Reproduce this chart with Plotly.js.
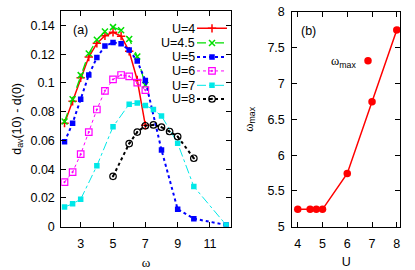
<!DOCTYPE html>
<html>
<head>
<meta charset="utf-8">
<script src="https://cdn.plot.ly/plotly-3.0.1.min.js"></script>
<style>html,body{margin:0;padding:0;background:#fff}#plot{width:415px;height:270px}</style>
</head>
<body>
<div id="plot"></div>
<script>
// ---- data, panel (a) ----
const wA = [2, 2.5, 3, 3.5, 4, 4.5, 5, 5.5, 6, 6.5, 7];
const dU4 = [0.072, 0.0872, 0.1035, 0.118, 0.1275, 0.1328, 0.1352, 0.1325, 0.122, 0.102, 0.0705];
const dU45 = [0.0731, 0.0886, 0.1054, 0.1205, 0.1300, 0.1358, 0.1388, 0.1366, 0.1305, 0.1184, 0.0985];
const wU5 = [2, 2.5, 3, 3.5, 4, 4.5, 5, 5.5, 6, 6.5, 7, 8, 9, 10, 12];
const dU5 = [0.059, 0.072, 0.0887, 0.1055, 0.1176, 0.1256, 0.1281, 0.1272, 0.1228, 0.1152, 0.1017, 0.0534, 0.0121, 0.0056, 0.0012];
const dU6 = [0.031, 0.038, 0.0504, 0.0658, 0.0815, 0.0945, 0.1024, 0.1055, 0.1046, 0.1002, 0.095];
const wU7 = [2, 2.5, 3, 4, 5, 6, 6.5, 7, 7.5, 8, 9, 10, 12];
const dU7 = [0.0137, 0.0159, 0.0191, 0.0423, 0.0695, 0.0852, 0.086, 0.0843, 0.0815, 0.077, 0.058, 0.0279, 0.0012];
const wU8 = [5, 6, 6.5, 7, 7.5, 8, 8.5, 9, 10];
const dU8 = [0.035, 0.0578, 0.0658, 0.0702, 0.0708, 0.0692, 0.0662, 0.0627, 0.0476];
const labelsA = ["U=4", "U=4.5", "U=5", "U=6", "U=7", "U=8"];
// ---- data, panel (b) ----
const Uvals = [4, 4.5, 4.75, 5, 6, 7, 8];
const wmax = [5.243, 5.243, 5.243, 5.243, 5.745, 6.745, 7.75];
const labelB = '<span style="font-family:Liberation Serif">ω</span><sub>max</sub>';

const W = 415, H = 270;
const F = "Liberation Sans, Arial, sans-serif";
const px = v => v / W, py = v => 1 - v / H;

const legY = [28.7, 43.3, 57.3, 71.3, 85.7, 99.3];
const styles = [
  {x: wA, y: dU4, color: '#ff0000', dash: 'solid', lw: 1.5, sym: 'cross-thin', ms: 6, open: true},
  {x: wA, y: dU45, color: '#00e000', dash: 'dash', lw: 1.3, sym: 'x-thin', ms: 6, open: true},
  {x: wU5, y: dU5, color: '#0000ff', dash: 'dot', lw: 2, sym: 'square', ms: 5.5},
  {x: wA, y: dU6, color: '#ff00ff', dash: 'dot', lw: 1, sym: 'square-open-dot', ms: 6.5},
  {x: wU7, y: dU7, color: '#00e8e8', dash: 'dashdot', lw: 1, sym: 'square', ms: 5.5},
  {x: wU8, y: dU8, color: '#000000', dash: 'dot', lw: 2, sym: 'circle-open-dot', ms: 6.5},
];

const traces = [];
const layout = {
  width: W, height: H,
  margin: {l: 0, r: 0, t: 0, b: 0},
  paper_bgcolor: '#fff', plot_bgcolor: '#fff',
  font: {family: F, size: 12.5, color: '#000'},
  annotations: [],
};

styles.forEach((s, i) => {
  const lname = i === 0 ? 'legend' : 'legend' + (i + 1);
  const marker = {symbol: s.sym, size: s.ms, color: s.color};
  if (s.open) marker.line = {color: s.color, width: 1.5};
  else if (s.sym.indexOf('open') >= 0) marker.line = {color: s.color, width: 1.2};
  traces.push({
    x: s.x, y: s.y, xaxis: 'x', yaxis: 'y', mode: 'lines+markers',
    line: {color: s.color, width: s.lw, dash: s.dash},
    marker: marker, name: '\u00a0', legend: lname, showlegend: true,
  });
  layout[lname] = {
    x: px(192), y: py(legY[i]), xanchor: 'left', yanchor: 'middle',
    bgcolor: 'rgba(0,0,0,0)', borderwidth: 0, itemwidth: 30,
    font: {family: F, size: 12.5, color: '#000'},
  };
  layout.annotations.push({
    xref: 'paper', yref: 'paper', x: px(197), y: py(legY[i]), xanchor: 'right', yanchor: 'middle',
    text: labelsA[i], showarrow: false, font: {family: F, size: 12.5, color: '#000'},
  });
});

// panel (b)
traces.push({
  x: Uvals, y: wmax, xaxis: 'x2', yaxis: 'y2', mode: 'lines',
  line: {color: '#ff0000', width: 1.5}, showlegend: false, hoverinfo: 'skip',
});
traces.push({
  x: Uvals, y: wmax, xaxis: 'x2', yaxis: 'y2', mode: 'markers',
  marker: {symbol: 'circle', size: 7.5, color: '#ff0000'},
  name: '\u00a0', legend: 'legend7', showlegend: true,
});
layout.legend7 = {
  x: px(348), y: py(61), xanchor: 'left', yanchor: 'middle',
  bgcolor: 'rgba(0,0,0,0)', borderwidth: 0, itemwidth: 30,
  font: {family: F, size: 12.5, color: '#000'},
};
layout.annotations.push({
  xref: 'paper', yref: 'paper', x: px(358), y: py(62), xanchor: 'right', yanchor: 'middle',
  text: labelB, showarrow: false, font: {family: F, size: 12.5, color: '#000'},
});

const axBase = {
  showline: true, linecolor: '#000', linewidth: 1, mirror: 'ticks',
  ticks: 'inside', ticklen: 5, tickwidth: 1, tickcolor: '#000',
  showgrid: false, zeroline: false,
  tickfont: {family: F, size: 12.5, color: '#000'},
};
layout.xaxis = Object.assign({}, axBase, {
  domain: [px(61.3), px(231)], range: [1.8, 12.3], tickvals: [3, 5, 7, 9, 11],
  anchor: 'y', ticklabelstandoff: 5,
  title: {text: '<span style="font-family:Liberation Serif">ω</span>', font: {family: F, size: 13, color: '#000'}, standoff: 14},
});
layout.yaxis = Object.assign({}, axBase, {
  domain: [py(226.7), py(11)], range: [0, 0.15], dtick: 0.02, tick0: 0,
  anchor: 'x', ticklabelstandoff: 3,
  title: {text: 'd<sub>av</sub>(10) - d(0)', font: {family: F, size: 12.5, color: '#000'}, standoff: 6},
});
layout.xaxis2 = Object.assign({}, axBase, {
  domain: [px(292.3), px(400)], range: [3.78, 8.13], dtick: 1, tick0: 0,
  anchor: 'y2', ticklabelstandoff: 5,
  title: {text: 'U', font: {family: F, size: 12.5, color: '#000'}, standoff: 7},
});
layout.yaxis2 = Object.assign({}, axBase, {
  domain: [py(226.7), py(12)], range: [5, 8], dtick: 0.5, tick0: 0,
  anchor: 'x2', ticklabelstandoff: 4,
  title: {text: labelB, font: {family: F, size: 12.5, color: '#000'}, standoff: 11},
});

layout.annotations.push(
  {xref: 'x domain', yref: 'y domain', x: 0.055, y: 0.955, xanchor: 'left', yanchor: 'top',
   text: '(a)', showarrow: false, font: {family: F, size: 12.5, color: '#000'}},
  {xref: 'x2 domain', yref: 'y2 domain', x: 0.06, y: 0.955, xanchor: 'left', yanchor: 'top',
   text: '(b)', showarrow: false, font: {family: F, size: 12.5, color: '#000'}}
);

Plotly.newPlot('plot', traces, layout, {displayModeBar: false, staticPlot: true});
</script>
</body>
</html>
